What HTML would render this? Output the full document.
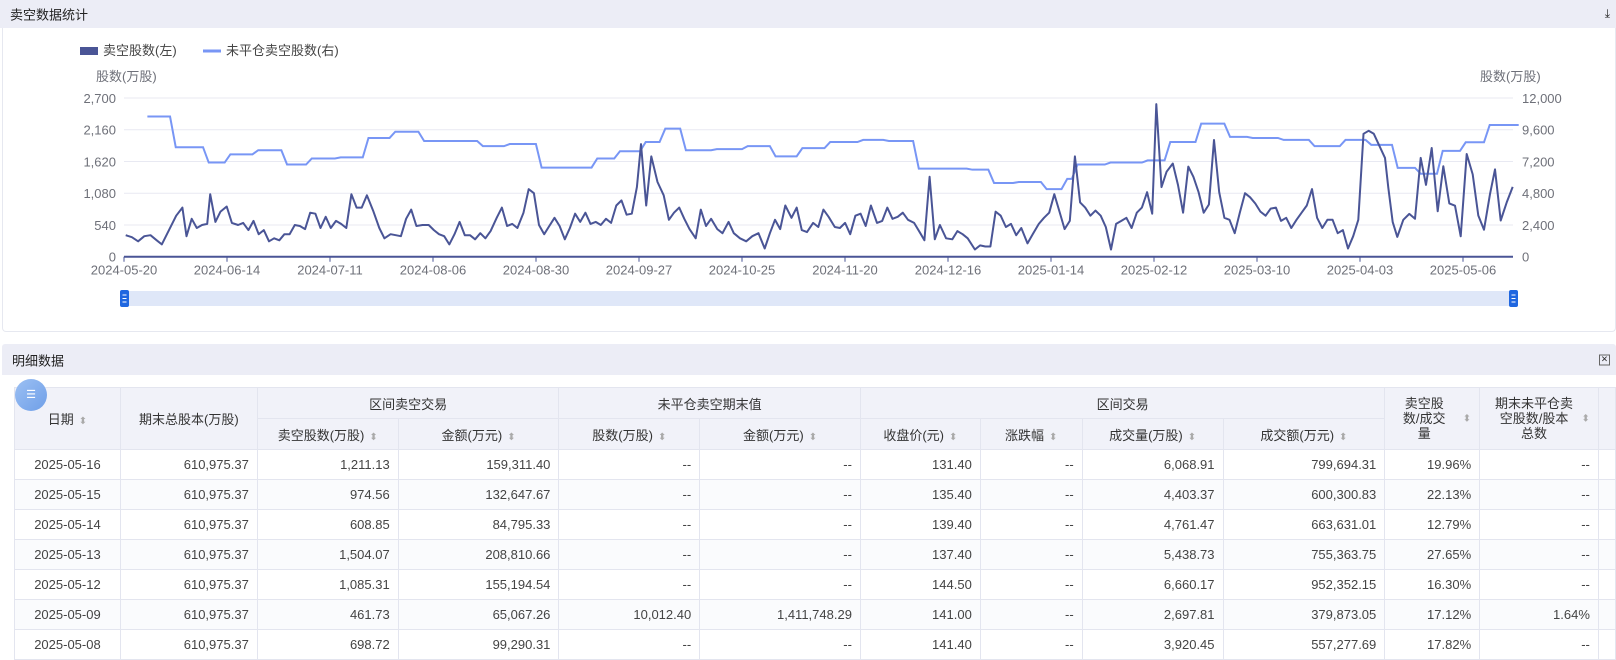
<!DOCTYPE html>
<html><head><meta charset="utf-8">
<style>
*{margin:0;padding:0;box-sizing:border-box}
body{width:1616px;height:659px;overflow:hidden;background:#fff;font-family:"Liberation Sans","Noto Sans CJK SC",sans-serif;color:#333;position:relative}
.bar{position:absolute;left:2px;right:0;background:#ecedf6;font-size:13px;color:#222}
#b1{top:0;height:28px;left:0}
#b2{top:344px;height:31px;border-radius:3px 3px 0 0}
.bar span{position:absolute;left:10px;top:50%;transform:translateY(-50%)}
#card{position:absolute;left:2px;right:0;top:28px;height:304px;border:1px solid #e6e8f0;border-top:none;border-radius:0 0 4px 4px}
table{position:absolute;left:14px;top:387px;border-collapse:collapse;table-layout:fixed;font-size:13px}
td,th{border:1px solid #e3e5ef;height:30px;padding:0 8px;white-space:nowrap;color:#444}
th{background:#f1f2f9;font-weight:normal;color:#333;text-align:center}
td{text-align:right}
td.c{text-align:center}
tr.alt td{background:#fafbfd}
.s{color:#aaa;font-size:10px;margin-left:5px}
th.w{white-space:normal;line-height:15px;position:relative;word-break:break-all}
th.w1{padding:0 30px 0 14px}
th.w2{padding:0 24px 0 14px}
th.w .s{position:absolute;right:8px;top:50%;transform:translateY(-50%)}
</style></head><body>
<div id="b1" class="bar"><span>卖空数据统计</span><span style="left:auto;right:6px;font-size:12px">⤓</span></div>
<div id="card"></div>
<svg id="ch" width="1616" height="330" style="position:absolute;left:0;top:0" font-family="Liberation Sans, Noto Sans CJK SC, sans-serif"></svg>
<div id="b2" class="bar"><span>明细数据</span><span style="left:auto;right:6px;font-size:11px;border:1px solid #666;width:11px;height:11px;line-height:9px;text-align:center">×</span></div>
<table>
<colgroup><col style="width:106px"><col style="width:137px"><col style="width:141px"><col style="width:161px"><col style="width:141px"><col style="width:161px"><col style="width:120px"><col style="width:102px"><col style="width:141px"><col style="width:162px"><col style="width:95px"><col style="width:119px"><col style="width:16px"></colgroup>
<tr><th rowspan="2" style="height:62px;position:relative"><div style="position:absolute;left:0;top:-9px;width:32px;height:32px;border-radius:50%;background:linear-gradient(135deg,#9cc0f3,#6f9fe8);color:#fff;font-size:11px;line-height:32px">☰</div>日期<span class="s">⬍</span></th><th rowspan="2">期末总股本(万股)</th><th colspan="2">区间卖空交易</th><th colspan="2">未平仓卖空期末值</th><th colspan="4">区间交易</th><th rowspan="2" class="w w1">卖空股数/成交量<span class="s">⬍</span></th><th rowspan="2" class="w w2">期末未平仓卖空股数/股本总数<span class="s">⬍</span></th><th rowspan="2"></th></tr>
<tr><th>卖空股数(万股)<span class="s">⬍</span></th><th>金额(万元)<span class="s">⬍</span></th><th>股数(万股)<span class="s">⬍</span></th><th>金额(万元)<span class="s">⬍</span></th><th>收盘价(元)<span class="s">⬍</span></th><th>涨跌幅<span class="s">⬍</span></th><th>成交量(万股)<span class="s">⬍</span></th><th>成交额(万元)<span class="s">⬍</span></th></tr>
<tr><td class="c">2025-05-16</td><td>610,975.37</td><td>1,211.13</td><td>159,311.40</td><td>--</td><td>--</td><td>131.40</td><td>--</td><td>6,068.91</td><td>799,694.31</td><td>19.96%</td><td>--</td><td></td></tr>
<tr class="alt"><td class="c">2025-05-15</td><td>610,975.37</td><td>974.56</td><td>132,647.67</td><td>--</td><td>--</td><td>135.40</td><td>--</td><td>4,403.37</td><td>600,300.83</td><td>22.13%</td><td>--</td><td></td></tr>
<tr><td class="c">2025-05-14</td><td>610,975.37</td><td>608.85</td><td>84,795.33</td><td>--</td><td>--</td><td>139.40</td><td>--</td><td>4,761.47</td><td>663,631.01</td><td>12.79%</td><td>--</td><td></td></tr>
<tr class="alt"><td class="c">2025-05-13</td><td>610,975.37</td><td>1,504.07</td><td>208,810.66</td><td>--</td><td>--</td><td>137.40</td><td>--</td><td>5,438.73</td><td>755,363.75</td><td>27.65%</td><td>--</td><td></td></tr>
<tr><td class="c">2025-05-12</td><td>610,975.37</td><td>1,085.31</td><td>155,194.54</td><td>--</td><td>--</td><td>144.50</td><td>--</td><td>6,660.17</td><td>952,352.15</td><td>16.30%</td><td>--</td><td></td></tr>
<tr class="alt"><td class="c">2025-05-09</td><td>610,975.37</td><td>461.73</td><td>65,067.26</td><td>10,012.40</td><td>1,411,748.29</td><td>141.00</td><td>--</td><td>2,697.81</td><td>379,873.05</td><td>17.12%</td><td>1.64%</td><td></td></tr>
<tr><td class="c">2025-05-08</td><td>610,975.37</td><td>698.72</td><td>99,290.31</td><td>--</td><td>--</td><td>141.40</td><td>--</td><td>3,920.45</td><td>557,277.69</td><td>17.82%</td><td>--</td><td></td></tr>
</table>
<script>
const S=1.0306,X0=124,X1=1513,Y0=256.7,YT=98;
const yL=v=>Y0-v/2700*(Y0-YT), yR=v=>Y0-v/12000*(Y0-YT);
let h='';
h+=`<rect x="80" y="47" width="18" height="8" fill="#4a5596"/><text x="103" y="55" font-size="13" fill="#444">卖空股数(左)</text>`;
h+=`<line x1="203" y1="51" x2="221" y2="51" stroke="#7896f5" stroke-width="3"/><text x="226" y="55" font-size="13" fill="#444">未平仓卖空股数(右)</text>`;
h+=`<text x="96" y="81" font-size="13" fill="#6e7079">股数(万股)</text><text x="1480" y="81" font-size="13" fill="#6e7079">股数(万股)</text>`;
for(let k=0;k<=5;k++){const y=YT+k*(Y0-YT)/5;
 if(k<5)h+=`<line x1="${X0}" y1="${y}" x2="${X1}" y2="${y}" stroke="#e8e9f2"/>`;
 h+=`<text x="${X0-8}" y="${y+5}" font-size="13" fill="#6e7079" text-anchor="end">${(2700-k*540).toLocaleString('en-US')}</text>`;
 h+=`<text x="${X1+9}" y="${y+5}" font-size="13" fill="#6e7079">${(12000-k*2400).toLocaleString('en-US')}</text>`;}
h+=`<line x1="${X0}" y1="${Y0}" x2="${X1}" y2="${Y0}" stroke="#4a5596" stroke-width="2"/>`;
const dates=['2024-05-20','2024-06-14','2024-07-11','2024-08-06','2024-08-30','2024-09-27','2024-10-25','2024-11-20','2024-12-16','2025-01-14','2025-02-12','2025-03-10','2025-04-03','2025-05-06'];
dates.forEach((d,i)=>{const x=X0+i*103;h+=`<line x1="${x}" y1="${Y0}" x2="${x}" y2="${Y0+5}" stroke="#4a5596"/><text x="${x}" y="${Y0+18}" font-size="13" fill="#6e7079" text-anchor="middle">${d}</text>`;});
const st=[[143,10600],[165,8280],[197,7120],[218,7740],[245,8050],[273,6970],[297,7430],[325,7510],[352,8980],[378,9450],[406,8750],[463,8360],[489,8520],[520,6740],[574,7430],[596,7970],[621,8670],[640,9680],[660,8050],[690,8130],[720,8360],[747,7590],[773,8210],[800,8670],[832,8830],[857,8750],[886,6660],[938,6580],[959,5570],[983,5650],[1010,5110],[1030,5880],[1040,6970],[1072,7120],[1108,7280],[1130,8670],[1160,10060],[1188,9060],[1210,8980],[1240,8830],[1270,8360],[1300,8830],[1325,8460],[1392/S,6720],[1415/S,6270],[1437/S,8000],[1460/S,8650],[1484/S,9960],[1513/S,9960]];
let p=[];for(let i=0;i<st.length;i++){const x=st[i][0]*S;if(i>0)p.push([x,yR(st[i-1][1])]);p.push([x+(i>0?5.7:0),yR(st[i][1])]);}
h+=`<polyline fill="none" stroke="#7896f5" stroke-width="2" points="${p.map(a=>a.join(',')).join(' ')}"/>`;
const d1=[[122,227],[128,229],[134,233],[140,228],[146,227],[152,232],[157,236],[164,222],[171,208],[177,200],[181,228],[186,211],[191,220],[196,217],[201,216],[204,187],[209,214],[214,204],[220,199],[225,215],[231,217],[236,215],[241,222],[246,213],[251,226],[256,222],[261,233],[266,230],[271,232],[276,226],[281,226],[286,217],[291,218],[296,221],[301,205],[306,206],[311,220],[316,209],[321,220],[326,213],[331,216],[336,220],[341,187],[346,200],[351,200],[356,188],[362,203],[368,220],[373,230],[379,226],[384,227],[389,228],[394,211],[399,202],[404,218],[410,217],[416,217],[421,222],[426,226],[431,228],[436,236],[441,226],[446,214],[451,227],[456,227],[461,231],[466,225],[471,230],[476,223],[482,210],[487,200],[492,218],[497,216],[502,220],[508,205],[513,182],[518,186],[523,217],[528,226],[533,218],[538,210],[543,218],[548,231],[553,220],[558,206],[563,214],[568,205],[573,216],[578,214],[583,217],[588,211],[593,215],[598,198],[603,193],[608,207],[613,206],[618,180],[622,138],[627,198],[632,150],[638,175],[644,188],[649,212],[654,205],[659,200],[664,211],[669,221],[675,230],[680,202],[685,218],[690,211],[696,221],[701,225],[707,214],[712,225],[718,230],[724,233],[730,228],[736,225],[742,240],[747,225],[752,212],[757,221],[762,198],[768,210],[773,200],[778,222],[783,224],[789,215],[794,219],[799,202],[804,209],[810,219],[815,220],[820,215],[825,226],[830,208],[835,206],[840,218],[845,198],[851,215],[856,213],[861,200],[866,211],[871,209],[876,205],[881,212],[887,215],[893,225],[897,232],[902,170],[907,231],[912,217],[918,230],[924,231],[929,223],[934,226],[939,230],[946,241],[951,237],[956,238],[961,238],[966,204],[971,208],[976,219],[981,216],[986,227],[991,220],[997,235],[1002,226],[1008,216],[1013,210],[1018,205],[1023,187],[1028,204],[1033,221],[1038,213],[1043,150],[1048,195],[1053,200],[1058,208],[1063,203],[1068,208],[1073,219],[1078,241],[1083,216],[1088,213],[1093,210],[1098,220],[1103,205],[1108,200],[1113,185],[1118,206],[1122,99],[1127,180],[1132,165],[1138,157],[1143,178],[1148,205],[1153,160],[1158,170],[1163,185],[1168,205],[1173,197],[1178,134],[1183,185],[1188,210],[1193,212],[1198,225],[1203,205],[1208,186],[1213,190],[1218,196],[1223,204],[1228,208],[1233,201],[1238,200],[1243,213],[1248,210],[1253,220],[1258,212],[1263,205],[1268,198],[1273,182],[1278,210],[1283,220],[1288,212],[1293,212],[1298,225],[1303,222],[1308,240],[1313,228],[1318,212],[1323,128],[1328,125],[1333,128]];
let q=d1.map(a=>[a[0]*S,yL((248-a[1])*17.42)]);
const z7=[[15,290],[25,380],[38,485],[52,530],[70,478],[88,460],[105,475],[122,290],[138,372],[155,260],[173,452],[190,315],[208,428],[225,435],[242,528],[260,278],[278,340],[295,465],[312,508],[330,400],[345,325],[362,480],[380,425],[398,378]];
z7.forEach(a=>q.push([1380+a[0]/3,yL((590-a[1])/482*2700)]));
h+=`<polyline fill="none" stroke="#4a5596" stroke-width="2" stroke-linejoin="round" points="${q.map(a=>a[0].toFixed(1)+','+a[1].toFixed(1)).join(' ')}"/>`;
h+=`<rect x="${X0}" y="291" width="${X1-X0}" height="15" fill="#dfe7f8"/>`;
[X0-4,X1-4].forEach(x=>{h+=`<rect x="${x}" y="290" width="9" height="17" rx="2" fill="#2067e0"/><path d="M${x+2.5} 295h4M${x+2.5} 298.5h4M${x+2.5} 302h4" stroke="#fff" stroke-width="1"/>`;});
document.getElementById('ch').innerHTML=h;
</script>
</body></html>
